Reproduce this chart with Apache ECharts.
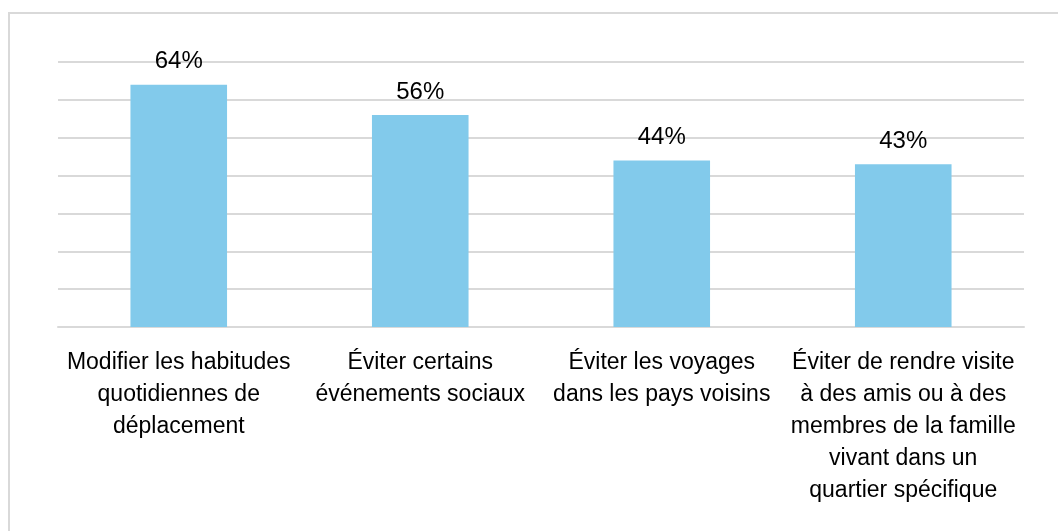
<!DOCTYPE html>
<html><head><meta charset="utf-8">
<script src="https://cdn.jsdelivr.net/npm/echarts@6/dist/echarts.min.js"></script>
<style>html,body{margin:0;padding:0;background:#fff}#c{width:1058px;height:531px}</style>
</head><body><div id="c"></div>
<script>
var categories = [
  "Modiﬁer les habitudes\nquotidiennes de\ndéplacement",
  "Éviter certains\névénements sociaux",
  "Éviter les voyages\ndans les pays voisins",
  "Éviter de rendre visite\nà des amis ou à des\nmembres de la famille\nvivant dans un\nquartier spéciﬁque"
];
var values = [64, 56, 44, 43];
var yMin = 0, yMax = 70, yStep = 10;

var chart = echarts.init(document.getElementById('c'));
chart.setOption({
  animation: false,
  backgroundColor: '#fff',
  graphic: [{type:'rect', shape:{x:9, y:13, width:1200, height:700}, style:{fill:'none', stroke:'#d9d9d9', lineWidth:2}}],
  grid: {left: 58, right: 34, top: 62, bottom: 204},
  xAxis: {
    type: 'category', data: categories,
    axisLine: {show: true, lineStyle: {color: '#d9d9d9', width: 2}},
    axisTick: {show: false},
    axisLabel: {interval: 0, color: '#000', fontFamily: 'Liberation Sans, Arial', fontSize: 23, lineHeight: 32, margin: 20}
  },
  yAxis: {
    type: 'value', min: yMin, max: yMax, interval: yStep,
    axisLabel: {show: false}, axisLine: {show: false}, axisTick: {show: false},
    splitLine: {lineStyle: {color: '#d9d9d9', width: 2}}
  },
  series: [{
    type: 'bar', data: values, barWidth: '40%',
    itemStyle: {color: '#82CAEB'},
    label: {show: true, position: 'top', distance: 11, formatter: '{c}%', color: '#000', fontFamily: 'Liberation Sans, Arial', fontSize: 24}
  }]
});
</script></body></html>
